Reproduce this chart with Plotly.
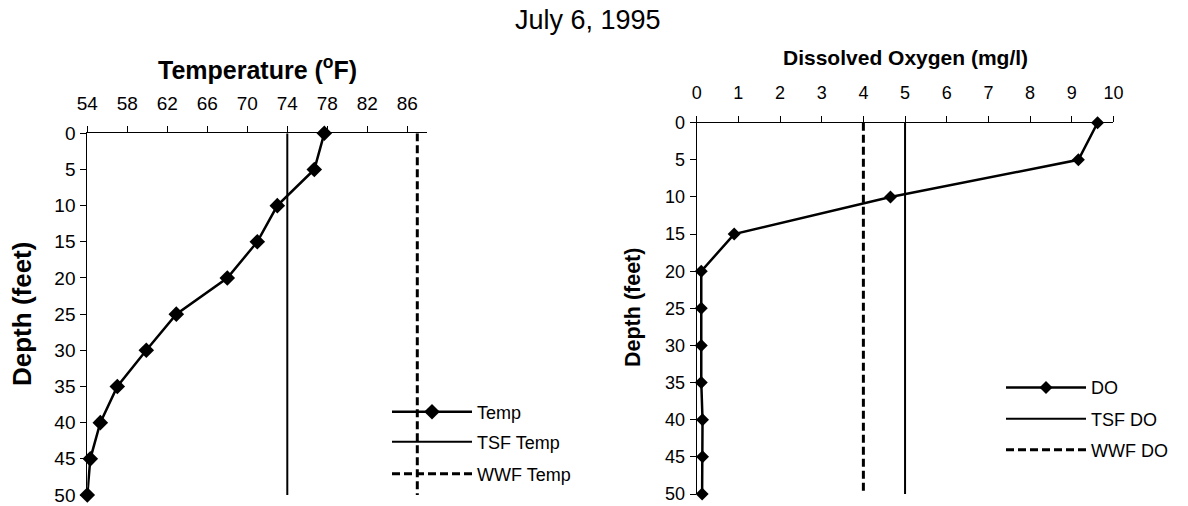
import plotly.graph_objects as go

# ---- data ----
depth_ft = [0, 5, 10, 15, 20, 25, 30, 35, 40, 45, 50]
temp_f = [77.7, 76.7, 73.0, 71.0, 68.0, 62.9, 59.9, 57.0, 55.3, 54.3, 54.0]
do_mgl = [9.62, 9.16, 4.65, 0.90, 0.11, 0.11, 0.11, 0.11, 0.14, 0.14, 0.13]
tsf_temp = 74
wwf_temp = 87
tsf_do = 5
wwf_do = 4
temp_ticks = [54, 58, 62, 66, 70, 74, 78, 82, 86]
do_ticks = [0, 1, 2, 3, 4, 5, 6, 7, 8, 9, 10]
depth_ticks = [0, 5, 10, 15, 20, 25, 30, 35, 40, 45, 50]
title_text = "July 6, 1995"

W, H = 1188, 506
OFF = 8  # page body margin
FONT = "Liberation Sans, Arial, sans-serif"

def px(x):
    return (x - OFF) / W

def py(y):
    return 1 - (y - OFF) / H

fig = go.Figure()
line_ends = [depth_ft[0], depth_ft[-1]]

fig.add_trace(go.Scatter(x=temp_f, y=depth_ft, mode="lines+markers", name="Temp",
                         line=dict(color="black", width=2.5),
                         marker=dict(symbol="diamond", size=12, color="black"),
                         cliponaxis=False, xaxis="x", yaxis="y", legend="legend"))
fig.add_trace(go.Scatter(x=[tsf_temp, tsf_temp], y=line_ends, mode="lines", name="TSF Temp",
                         line=dict(color="black", width=2), xaxis="x", yaxis="y", legend="legend2"))
fig.add_trace(go.Scatter(x=[wwf_temp, wwf_temp], y=line_ends, mode="lines", name="WWF Temp",
                         line=dict(color="black", width=3, dash="8px,4px"), xaxis="x", yaxis="y", legend="legend3"))

fig.add_trace(go.Scatter(x=do_mgl, y=depth_ft, mode="lines+markers", name="DO",
                         line=dict(color="black", width=2.5),
                         marker=dict(symbol="diamond", size=10, color="black"),
                         cliponaxis=False, xaxis="x2", yaxis="y2", legend="legend4"))
fig.add_trace(go.Scatter(x=[tsf_do, tsf_do], y=line_ends, mode="lines", name="TSF DO",
                         line=dict(color="black", width=2), xaxis="x2", yaxis="y2", legend="legend5"))
fig.add_trace(go.Scatter(x=[wwf_do, wwf_do], y=line_ends, mode="lines", name="WWF DO",
                         line=dict(color="black", width=3, dash="8px,4px"), xaxis="x2", yaxis="y2", legend="legend6"))

axis_common = dict(showgrid=False, zeroline=False, showline=True, linecolor="black", linewidth=1,
                   ticks="outside", ticklen=6, tickcolor="black", tickwidth=1, automargin=False)

fig.update_layout(
    width=W, height=H, margin=dict(l=0, r=0, t=0, b=0),
    paper_bgcolor="white", plot_bgcolor="white", showlegend=True,
    font=dict(family=FONT, color="black"),
    xaxis=dict(domain=[px(87.3), px(427.3)], range=[54, 88], side="top", tickmode="array",
               tickvals=temp_ticks, anchor="y", tickfont=dict(size=19), ticklabelstandoff=9, **axis_common),
    yaxis=dict(domain=[py(495), py(133.3)], range=[50, 0], tickmode="array", tickvals=depth_ticks,
               anchor="x", tickfont=dict(size=19), ticklabelstandoff=1, **axis_common),
    xaxis2=dict(domain=[px(696.7), px(1113.4)], range=[0, 10], side="top", tickmode="array",
                tickvals=do_ticks, anchor="y2", tickfont=dict(size=18), ticklabelstandoff=10, **axis_common),
    yaxis2=dict(domain=[py(494), py(122.7)], range=[50, 0], tickmode="array", tickvals=depth_ticks,
                anchor="x2", tickfont=dict(size=18), ticklabelstandoff=1, **axis_common),
)

leg_common = dict(bgcolor="rgba(0,0,0,0)", borderwidth=0, itemwidth=80, font=dict(size=18, family=FONT),
                  xanchor="left", yanchor="middle", visible=True)
fig.update_layout(
    legend=dict(x=px(387), y=py(412), **leg_common),
    legend2=dict(x=px(387), y=py(442), **leg_common),
    legend3=dict(x=px(387), y=py(474), **leg_common),
    legend4=dict(x=px(1001), y=py(387.7), **leg_common),
    legend5=dict(x=px(1001), y=py(419), **leg_common),
    legend6=dict(x=px(1001), y=py(450), **leg_common),
)

ann = [
    dict(text=title_text, x=px(588), y=py(20), font=dict(size=27)),
    dict(text="<b>Temperature (<sup>o</sup>F)</b>", x=px(257.3), y=py(68), font=dict(size=25)),
    dict(text="<b>Depth (feet)</b>", x=px(22), y=py(314), textangle=-90, font=dict(size=26)),
    dict(text="<b>Dissolved Oxygen (mg/l)</b>", x=px(905), y=py(58), font=dict(size=21)),
    dict(text="<b>Depth (feet)</b>", x=px(633), y=py(308), textangle=-90, font=dict(size=21.5)),
]
for a in ann:
    fig.add_annotation(xref="paper", yref="paper", showarrow=False, xanchor="center", yanchor="middle", **a)

fig.write_html("out.html")
